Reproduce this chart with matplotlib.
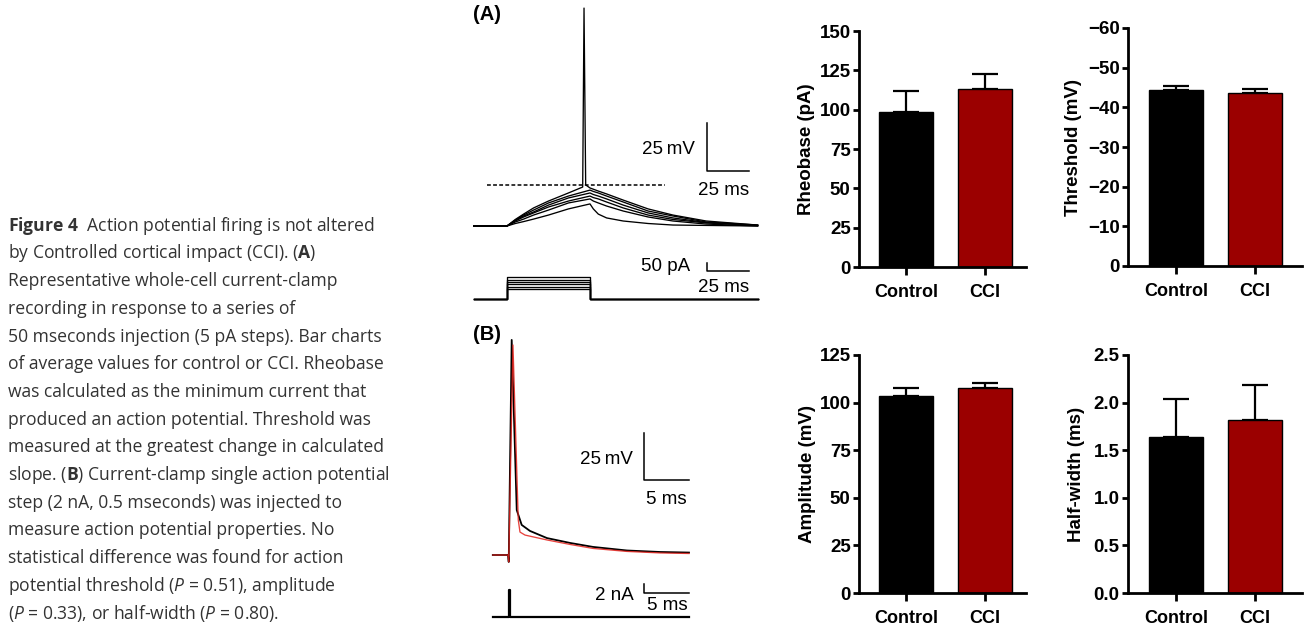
import matplotlib
matplotlib.use('Agg')
import matplotlib.pyplot as plt
from matplotlib.ticker import FormatStrFormatter
import numpy as np

# ---------------------------------------------------------------- data
groups = ['Control', 'CCI']
bar_colors = ['#000000', '#9b0000']

rheobase_mean = [98.4, 113.0]
rheobase_sem = [13.5, 9.7]
threshold_mean = [-44.4, -43.6]
threshold_sem = [1.1, 1.1]
amplitude_mean = [103.5, 107.9]
amplitude_sem = [4.0, 2.2]
halfwidth_mean = [1.64, 1.82]
halfwidth_sem = [0.40, 0.36]

rheobase_ticks = [0, 25, 50, 75, 100, 125, 150]
threshold_ticks = [0, -10, -20, -30, -40, -50, -60]
amplitude_ticks = [0, 25, 50, 75, 100, 125]
halfwidth_ticks = [0.0, 0.5, 1.0, 1.5, 2.0, 2.5]

# Panel A: current-clamp step traces (time ms, membrane potential mV)
tA_sub = [-20, 0, 5, 10, 16, 25, 37, 50, 52, 55, 60, 70, 85, 100, 120, 151]
vA_1 = [-65, -65, -63.7, -62.7, -61.4, -59.3, -56.1, -53.5, -56.1, -58.8, -60.8, -62.4, -63.7, -64.5, -64.7, -65]
vA_2 = [-65, -65, -62.9, -61.4, -59.3, -56.7, -53.0, -50.9, -52.0, -53.0, -54.6, -57.2, -60.3, -62.4, -64.0, -65]
vA_3 = [-65, -65, -62.4, -60.3, -58.2, -55.1, -52.0, -49.4, -50.2, -50.9, -52.5, -55.6, -59.3, -61.6, -63.4, -64.7]
vA_4 = [-65, -65, -62.1, -59.8, -57.7, -54.1, -50.4, -47.8, -48.6, -49.4, -50.9, -54.1, -58.2, -60.8, -63.2, -64.7]
vA_5 = [-65, -65, -61.9, -59.3, -56.7, -53.0, -49.4, -46.3, -47.0, -47.8, -49.4, -52.5, -57.2, -59.8, -62.9, -64.5]
tA_spike = [-20, 0, 5, 10, 16, 25, 37, 45.6, 46.4, 47.4, 50, 55, 60, 70, 85, 100, 120, 151]
vA_spike = [-65, -65, -61.6, -58.8, -55.6, -52.0, -47.8, -44.7, 48.5, -43.6, -45.2, -46.8, -48.3, -51.5, -56.1, -59.3, -62.4, -64.5]
threshold_mV = -43.9
threshold_span = [-12, 95]

# Panel A: injected current steps (pA)
tA_stim = [-20, 0, 0, 50, 50, 151]
stim_steps_pA = [65, 80, 95, 110, 125, 140]

# Panel B: single action potential (time ms, mV)
tB_black = [-1.8, -0.1, -0.03, 0.3, 0.86, 1.41, 2.33, 4.22, 6.8, 9.33, 13.1, 16.8, 20.0]
vB_black = [-65, -65, -68.7, 49.4, -41.1, -49.0, -52.2, -56.0, -58.6, -60.7, -62.6, -63.4, -63.7]
tB_red = [-1.8, -0.1, -0.03, 0.44, 1.03, 1.22, 1.78, 4.22, 6.8, 9.33, 13.1, 16.8, 20.0]
vB_red = [-65, -65, -68.7, 46.7, -46.4, -52.8, -54.4, -57.0, -59.4, -61.5, -63.1, -63.9, -64.2]
tB_stim = [-1.8, 0, 0, 0.15, 0.15, 20]
iB_stim = [0, 0, 6, 6, 0, 0]

caption_lines = [
    r"$\mathbf{Figure\ 4}$  Action potential firing is not altered",
    r"by Controlled cortical impact (CCI). ($\mathbf{A}$)",
    "Representative whole-cell current-clamp",
    "recording in response to a series of",
    "50 mseconds injection (5 pA steps). Bar charts",
    "of average values for control or CCI. Rheobase",
    "was calculated as the minimum current that",
    "produced an action potential. Threshold was",
    "measured at the greatest change in calculated",
    r"slope. ($\mathbf{B}$) Current-clamp single action potential",
    "step (2 nA, 0.5 mseconds) was injected to",
    "measure action potential properties. No",
    "statistical difference was found for action",
    r"potential threshold ($\mathit{P}$ = 0.51), amplitude",
    r"($\mathit{P}$ = 0.33), or half-width ($\mathit{P}$ = 0.80).",
]

# ---------------------------------------------------------------- style
plt.rcParams['font.family'] = ['Liberation Sans', 'DejaVu Sans']
plt.rcParams['mathtext.fontset'] = 'custom'
plt.rcParams['mathtext.rm'] = 'Open Sans'
plt.rcParams['mathtext.bf'] = 'Open Sans:bold'
plt.rcParams['mathtext.it'] = 'Open Sans:italic'

W, H = 1304, 625
fig = plt.figure(figsize=(W / 100, H / 100), dpi=100)
fig.patch.set_facecolor('white')


def px_axes(x0, y0, x1, y1):
    return fig.add_axes([x0 / W, 1 - y1 / H, (x1 - x0) / W, (y1 - y0) / H])


def map_axes(ax, box, origin_px, origin_data, sx, sy):
    x0, y0, x1, y1 = box
    xo, yo = origin_px
    dx, dy = origin_data
    ax.set_xlim(dx + (x0 - xo) / sx, dx + (x1 - xo) / sx)
    ax.set_ylim(dy + (yo - y1) / sy, dy + (yo - y0) / sy)
    ax.axis('off')


def ftext(px, py, s, **kw):
    return fig.text(px / W, 1 - py / H, s, **kw)


# ---------------------------------------------------------------- caption
cap_color = '#333333'
rend = fig.canvas.get_renderer()
probe = fig.text(0, 0, caption_lines[8], fontsize=10, family='Open Sans')
wprobe = probe.get_window_extent(rend).width
probe.remove()
cap_fs = 10 * 378 / wprobe
for i, line in enumerate(caption_lines):
    ftext(8, 230.7 + i * 27.7, line, fontsize=cap_fs, family='Open Sans',
          color=cap_color, ha='left', va='baseline')

# ---------------------------------------------------------------- panel A traces
scale_fs = 13.5
boxA = (465, 0, 780, 245)
axA = px_axes(*boxA)
map_axes(axA, boxA, (507, 226), (0, -65), 1.66, 1.92)
for v in [vA_1, vA_2, vA_3, vA_4, vA_5]:
    axA.plot(tA_sub, v, color='black', lw=0.95, solid_joinstyle='round')
axA.plot(tA_spike, vA_spike, color='black', lw=0.95, solid_joinstyle='round')
axA.plot(threshold_span, [threshold_mV, threshold_mV], color='black', lw=1.1,
         linestyle=(0, (2.5, 1.5)))
sbx, sby = 120.5, -36.35
axA.plot([sbx, sbx, sbx + 25], [sby + 25, sby, sby], color='black', lw=1.1)
ftext(695, 150, '25\u2009mV', fontsize=scale_fs, ha='right', va='center')
ftext(724, 190.5, '25 ms', fontsize=scale_fs, ha='center', va='center')

boxAs = (465, 250, 780, 310)
axAs = px_axes(*boxAs)
map_axes(axAs, boxAs, (507, 299), (0, 0), 1.66, 0.154)
for amp in stim_steps_pA:
    axAs.plot(tA_stim, [0, 0, amp, amp, 0, 0], color='black', lw=0.95)
axAs.plot([sbx, sbx, sbx + 25], [232, 182, 182], color='black', lw=1.1)
ftext(690, 266.5, '50 pA', fontsize=scale_fs, ha='right', va='center')
ftext(724, 287, '25 ms', fontsize=scale_fs, ha='center', va='center')

ftext(487, 15, '(A)', fontsize=14.5, fontweight='bold', ha='center', va='center')
ftext(487, 335, '(B)', fontsize=14.5, fontweight='bold', ha='center', va='center')

# ---------------------------------------------------------------- panel B traces
boxB = (485, 320, 780, 575)
axB = px_axes(*boxB)
map_axes(axB, boxB, (509, 555), (0, -65), 9.0, 1.88)
axB.plot(tB_black, vB_black, color='black', lw=1.3, solid_joinstyle='round')
axB.plot(tB_red, vB_red, color='#e3221c', lw=0.95, alpha=0.85, solid_joinstyle='round')
axB.plot([15, 15, 20], [-0.1, -25.1, -25.1], color='black', lw=1.1)
ftext(633, 460, '25\u2009mV', fontsize=scale_fs, ha='right', va='center')
ftext(666, 499, '5 ms', fontsize=scale_fs, ha='center', va='center')

boxBs = (485, 578, 780, 625)
axBs = px_axes(*boxBs)
map_axes(axBs, boxBs, (509, 617), (0, 0), 9.0, 4.5)
axBs.plot(tB_stim, iB_stim, color='black', lw=1.6)
axBs.plot([15, 15, 20], [7.33, 5.33, 5.33], color='black', lw=1.1)
ftext(634, 596, '2 nA', fontsize=scale_fs, ha='right', va='center')
ftext(667, 605, '5 ms', fontsize=scale_fs, ha='center', va='center')


# ---------------------------------------------------------------- bar charts
def setup_bar(ax, box, xc0_px, ticks, ylim, ylabel, lab_right_px, fmt=None):
    x0, y0, x1, y1 = box
    unit = 79.0
    ax.set_xlim((x0 - xc0_px) / unit, (x1 - xc0_px) / unit)
    ax.set_ylim(*ylim)
    ax.set_yticks(ticks)
    if fmt:
        ax.yaxis.set_major_formatter(FormatStrFormatter(fmt))
    ax.set_xticks(np.arange(len(groups)))
    ax.set_xticklabels(groups)
    for s in ['top', 'right']:
        ax.spines[s].set_visible(False)
    for s in ['left', 'bottom']:
        ax.spines[s].set_linewidth(2.0)
    ax.tick_params(axis='y', length=4.5, width=2.0, pad=1.5, labelsize=13.5)
    ax.tick_params(axis='x', length=6.0, width=2.0, pad=6.5, labelsize=13)
    for lbl in ax.get_xticklabels() + ax.get_yticklabels():
        lbl.set_fontweight('bold')
    ax.set_ylabel(ylabel, fontsize=13.5, fontweight='bold')
    ax.yaxis.set_label_coords((lab_right_px - x0) / (x1 - x0), 0.5)


panels = [
    ((859, 31, 1026, 267), 906, rheobase_mean, rheobase_sem, rheobase_ticks, (0, 150),
     'Rheobase (pA)', 815, None, False),
    ((1128, 28, 1302, 266), 1176, threshold_mean, threshold_sem, threshold_ticks, (0, -60),
     'Threshold (mV)', 1082, None, True),
    ((859, 355, 1026, 593), 906, amplitude_mean, amplitude_sem, amplitude_ticks, (0, 125),
     'Amplitude (mV)', 816, None, False),
    ((1128, 355, 1302, 593), 1176, halfwidth_mean, halfwidth_sem, halfwidth_ticks, (0, 2.5),
     'Half-width (ms)', 1085, '%.1f', False),
]
for box, xc0, means, sems, ticks, ylim, ylabel, labx, fmt, inv in panels:
    ax = px_axes(*box)
    x = np.arange(len(groups))
    err = [sems, [0] * len(sems)] if inv else [[0] * len(sems), sems]
    ax.errorbar(x, means, yerr=err, fmt='none', ecolor='black', elinewidth=1.6,
                capsize=9.5, capthick=1.6, zorder=1)
    ax.bar(x, means, width=0.68, color=bar_colors, edgecolor='black',
           linewidth=1.0, zorder=2)
    setup_bar(ax, box, xc0, ticks, ylim, ylabel, labx, fmt)

fig.savefig('out.png', dpi=100, facecolor='white')
